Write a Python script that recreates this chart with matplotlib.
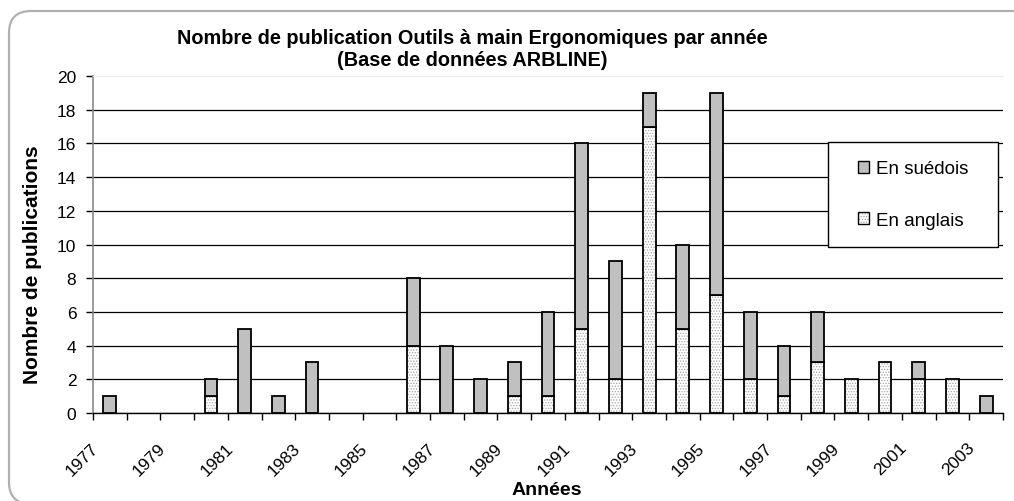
import matplotlib
matplotlib.use('Agg')
import matplotlib.pyplot as plt
import numpy as np
from matplotlib.patches import FancyBboxPatch, Rectangle, Patch
from matplotlib.legend_handler import HandlerBase
from matplotlib.transforms import IdentityTransform

plt.rcParams['font.family'] = ['Liberation Sans', 'DejaVu Sans']
plt.rcParams['hatch.linewidth'] = 0.6

years = list(range(1977, 2004))
anglais = [0, 0, 0, 1, 0, 0, 0, 0, 0, 4, 0, 0, 1, 1, 5, 2, 17, 5, 7, 2, 1, 3, 2, 3, 2, 2, 0]
suedois = [1, 0, 0, 1, 5, 1, 3, 0, 0, 4, 4, 2, 2, 5, 11, 7, 2, 5, 12, 4, 3, 3, 0, 0, 1, 0, 1]
yticks = list(range(0, 21, 2))

title = "Nombre de publication Outils à main Ergonomiques par année\n(Base de données ARBLINE)"
xlabel = "Années"
ylabel = "Nombre de publications"
lab_sv = "En suédois"
lab_en = "En anglais"

W, H = 1014, 502
fig = plt.figure(figsize=(W / 100, H / 100), dpi=100)

border = FancyBboxPatch((9, -3), 1030, 502 - 12 + 3, boxstyle='round,pad=0,rounding_size=22',
                        transform=IdentityTransform(), facecolor='none',
                        edgecolor='#b0b0b0', lw=1.6)
fig.patches.append(border)

ax = fig.add_axes([93 / W, 88 / H, 910 / W, 337 / H])
x = np.arange(len(years))
en = np.array(anglais, dtype=float)
sv = np.array(suedois, dtype=float)
bw = 0.38
hatch_col = '#a4a4a4'
hatch = '......'
grey = '#c0c0c0'

m_en = en > 0
m_sv = sv > 0
ax.bar(x[m_en], en[m_en], width=bw, color='white', hatch=hatch, edgecolor=hatch_col, lw=0, zorder=2)
ax.bar(x[m_en], en[m_en], width=bw, fill=False, edgecolor='black', lw=1.3, zorder=3)
ax.bar(x[m_sv], sv[m_sv], bottom=en[m_sv], width=bw, color=grey, edgecolor='black', lw=1.3, zorder=3)

ax.set_xlim(-0.5, len(years) - 0.5)
ax.set_ylim(0, 20)

ax.set_yticks(yticks)
ax.set_yticklabels([str(v) for v in yticks], fontsize=12.5)
ax.tick_params(axis='y', direction='out', length=5, width=1, color='black', pad=7)
ax.yaxis.grid(True, color='black', lw=0.9)
ax.yaxis.get_major_ticks()[-1].gridline.set_visible(False)
ax.set_axisbelow(True)

ax.set_xticks(np.arange(-0.5, len(years), 1.0))
ax.set_xticklabels([])
ax.tick_params(axis='x', which='major', direction='out', length=5, width=1, color='black')
ax.set_xticks(x[::2] - 0.42, minor=True)
ax.set_xticklabels([str(y) for y in years[::2]], minor=True, fontsize=12.5,
                   rotation=45, ha='right', va='center', rotation_mode='anchor')
ax.tick_params(axis='x', which='minor', length=0, pad=23)

ax.spines['right'].set_visible(False)
ax.spines['top'].set_color('#ececec')
ax.spines['left'].set_color('#8a8a8a')
ax.spines['left'].set_linewidth(1.2)
ax.spines['bottom'].set_color('black')
ax.spines['bottom'].set_linewidth(1.0)


class HatchHandler(HandlerBase):
    def create_artists(self, legend, orig_handle, xdescent, ydescent, width, height,
                       fontsize, trans):
        r1 = Rectangle((-xdescent, -ydescent), width, height, facecolor='white', hatch=hatch,
                       edgecolor=hatch_col, lw=0, transform=trans)
        r2 = Rectangle((-xdescent, -ydescent), width, height, fill=False,
                       edgecolor='black', lw=1.0, transform=trans)
        return [r1, r2]


lx0, ly0, lw_, lh_ = 0.808, 0.4926, 0.1865, 0.311
ax.add_patch(Rectangle((lx0, ly0), lw_, lh_, transform=ax.transAxes, facecolor='white',
                       edgecolor='black', lw=1.0, zorder=4.9))
h_sv = Patch(facecolor=grey, edgecolor='black', lw=1.0)
h_en = Patch(facecolor='white')
leg = ax.legend([h_sv, h_en], [lab_sv, lab_en], loc='center',
                bbox_to_anchor=(lx0 + lw_ / 2, ly0 + lh_ / 2), bbox_transform=ax.transAxes,
                frameon=False, fontsize=13.5, handlelength=0.6, handleheight=0.6,
                labelspacing=1.85, handletextpad=0.4,
                handler_map={h_en: HatchHandler()})
leg.set_zorder(5)

fig.text(472 / W, 1 - 49 / H, title, ha='center', va='center', fontsize=14.3,
         fontweight='bold', linespacing=1.2)
fig.text(547 / W, 1 - 491 / H, xlabel, ha='center', va='center', fontsize=14, fontweight='bold')
fig.text(33 / W, 1 - 265 / H, ylabel, ha='center', va='center', fontsize=15,
         fontweight='bold', rotation=90)

fig.savefig('out.png', dpi=100)
